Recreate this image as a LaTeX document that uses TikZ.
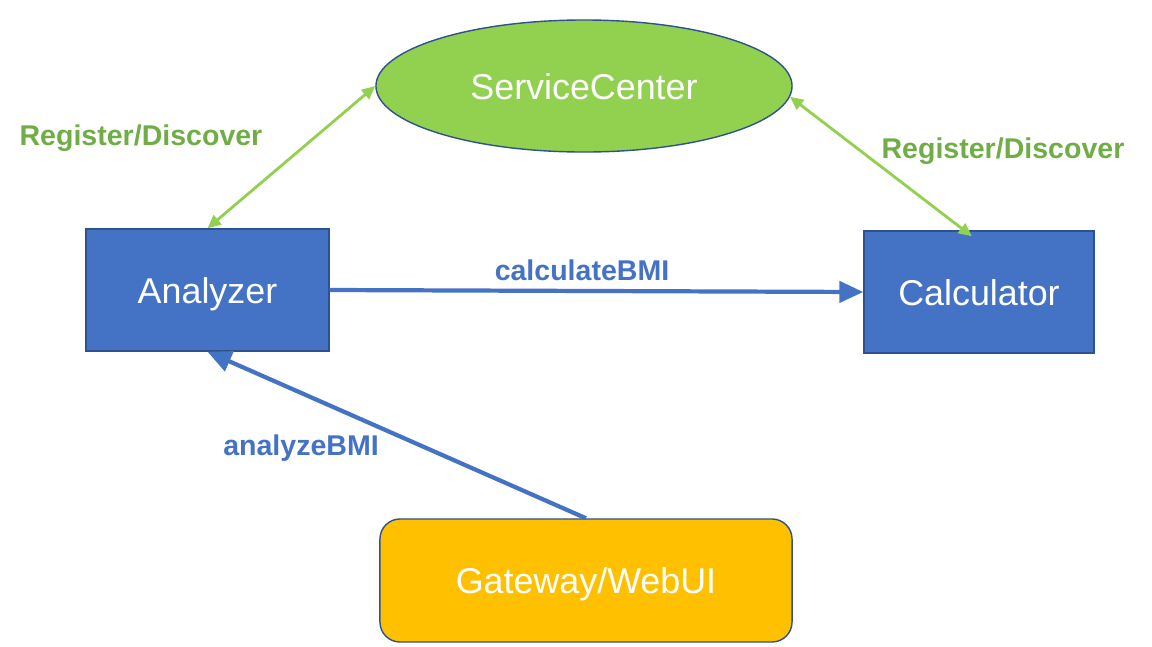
\documentclass[tikz,border=0pt]{standalone}
\usepackage{fontspec}
\setmainfont{Liberation Sans}
\usetikzlibrary{positioning, arrows.meta, shapes.geometric}
\definecolor{boxblue}{HTML}{4472C4}
\definecolor{edgeblue}{HTML}{2F528F}
\definecolor{scgreen}{HTML}{92D050}
\definecolor{labgreen}{HTML}{70AD47}
\definecolor{gwyellow}{HTML}{FFC000}

\begin{document}
\begin{tikzpicture}[x=0.025cm, y=-0.025cm,
  svc/.style={draw=edgeblue, line width=1pt, text=white, text height=0.85cm, text depth=0.2cm, font=\fontsize{25.5}{30}\selectfont},
  reg/.style={{Triangle[length=9.5pt,width=8.5pt]}-{Triangle[length=9.5pt,width=8.5pt]}, draw=scgreen, line width=2pt},
  call/.style={-{Triangle[length=17pt,width=15pt]}, draw=boxblue, line width=3pt},
  lab/.style={inner sep=0pt, font=\fontsize{20.3}{24}\selectfont\bfseries}]
\useasboundingbox (0,0) rectangle (1152,646);
\node[svc, ellipse, fill=scgreen, minimum width=10.4cm, minimum height=3.3cm] (sc) at (584,86) {ServiceCenter};
\node[svc, rectangle, fill=boxblue, minimum width=6.075cm, minimum height=3.05cm] (an) at (207.5,290) {Analyzer};
\node[svc, rectangle, fill=boxblue, minimum width=5.75cm, minimum height=3.05cm] (ca) at (979,292) {Calculator};
\node[svc, rectangle, rounded corners=0.5cm, fill=gwyellow, minimum width=10.3cm, minimum height=3.075cm] (gw) at (586,580.5) {Gateway/WebUI};
\draw[reg] (an.north) -- (sc.west);
\draw[reg] (sc.-3) -- ([xshift=-0.175cm,yshift=-0.15cm]ca.north);
\draw[call] (an.east) -- (ca.west);
\draw[call] (gw.north) -- (an.south);
\node[lab, text=labgreen] (regl) at (141,138) {Register/Discover};
\node[lab, text=labgreen] (regr) at (1003,151) {Register/Discover};
\node[lab, text=boxblue] (calc) at (582,270) {calculateBMI};
\node[lab, text=boxblue] (anlz) at (301,448) {analyzeBMI};
\end{tikzpicture}
\end{document}
